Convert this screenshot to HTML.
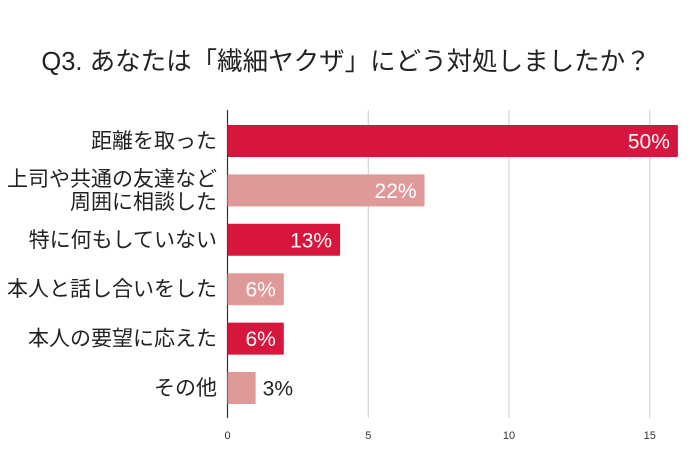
<!DOCTYPE html>
<html><head><meta charset="utf-8"><style>
body{margin:0;background:#fff;}
svg text{font-family:"Liberation Sans","Noto Sans CJK JP",sans-serif;}
</style></head><body>
<svg width="690" height="460" xmlns="http://www.w3.org/2000/svg">
<text x="346" y="70" text-anchor="middle" font-size="25.5" fill="#222">Q3. あなたは「繊細ヤクザ」にどう対処しましたか？</text>
<g id="grid"></g>
<g id="bars"></g>
<g id="labels"></g>
</svg>
<script>
const categories=[["距離を取った"],["上司や共通の友達など","周囲に相談した"],["特に何もしていない"],["本人と話し合いをした"],["本人の要望に応えた"],["その他"]];
const values=[16,7,4,2,2,1];
const percentLabels=["50%","22%","13%","6%","6%","3%"];
const tickValues=[0,5,10,15];
const colors=["#d6163c","#e09999"];
const NS="http://www.w3.org/2000/svg";
const x0=227.5, scale=28.15, yTop=125, step=49.4, bh=32;
const xs=v=>x0+v*scale;
const ys=i=>yTop+i*step;
function mk(tag,attrs,parent){const e=document.createElementNS(NS,tag);for(const k in attrs)e.setAttribute(k,attrs[k]);document.getElementById(parent).appendChild(e);return e;}
tickValues.forEach(t=>{
  if(t>0){const l=mk('line',{x1:xs(t),x2:xs(t),y1:110,y2:418,stroke:'#ccc','stroke-width':1},'grid');
  
  }
  const tx=mk('text',{x:xs(t),y:439,'text-anchor':'middle','font-size':11,fill:'#333'},'grid');
  tx.textContent=t;
  
  
});
values.forEach((v,i)=>{
  const r=mk('rect',{x:x0,y:ys(i),width:v*scale,height:bh,fill:colors[i%2],rx:1},'bars');
  
  
  const inside=v*scale>50;
  const t=mk('text',{x:inside?xs(v)-8:xs(v)+7,y:ys(i)+bh/2+7.5,'text-anchor':inside?'end':'start','font-size':21,fill:inside?'#fff':'#222'},'labels');
  t.textContent=percentLabels[i];
  
  
  const lines=categories[i];
  const c=mk('text',{x:217,'text-anchor':'end','font-size':21,fill:'#222'},'labels');
  
  
  lines.forEach((s,j)=>{const ts=document.createElementNS(NS,'tspan');ts.setAttribute('x',217);ts.setAttribute('y',ys(i)+bh/2+7+(j-(lines.length-1)/2)*23);ts.textContent=s;c.appendChild(ts);});
});
const ax=mk('line',{x1:x0,x2:x0,y1:110,y2:418,stroke:'#333','stroke-width':1.2},'grid');


</script>
</body></html>
